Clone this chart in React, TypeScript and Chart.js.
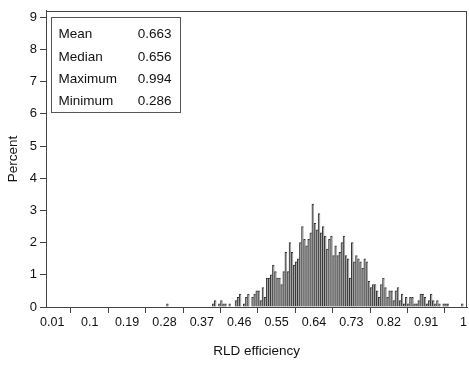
import React, { useEffect, useRef } from 'react';
import { Chart, registerables } from 'chart.js';

Chart.register(...registerables);

// Histogram bins: width 0.005, first bin starts at 0.285
const binStart = 0.285;
const binWidth = 0.005;
const percents = [
  0.1, 0, 0, 0, 0, 0, 0, 0, 0, 0,
  0, 0, 0, 0, 0, 0, 0, 0, 0, 0,
  0, 0, 0.1, 0.2, 0, 0.1, 0.2, 0.1, 0.1, 0,
  0.1, 0, 0, 0.2, 0.3, 0.4, 0, 0.1, 0.3, 0.4,
  0, 0.3, 0.4, 0.5, 0.5, 0.2, 0.6, 0.3, 0.9, 0.9,
  1.0, 1.3, 1.1, 0.9, 0.9, 0.7, 1.1, 1.7, 1.1, 2.0,
  1.7, 1.3, 1.4, 1.5, 2.0, 2.5, 2.1, 1.9, 2.1, 2.3,
  3.2, 2.6, 2.4, 2.9, 2.3, 2.5, 2.2, 1.8, 2.1, 2.2,
  1.6, 1.9, 1.6, 1.7, 2.0, 2.2, 1.6, 1.5, 0.9, 2.0,
  1.4, 1.6, 1.5, 1.4, 1.2, 1.5, 1.4, 0.8, 0.6, 0.7,
  0.7, 0.5, 0.3, 0.7, 0.9, 0.6, 0.3, 0.5, 0.5, 0.2,
  0.5, 0.6, 0.2, 0.4, 0.1, 0.3, 0.1, 0.3, 0.3, 0.1,
  0.1, 0.2, 0.4, 0.4, 0.3, 0.1, 0.2, 0.4, 0.2, 0.1,
  0.2, 0.1, 0, 0.1, 0.1, 0.1, 0, 0, 0, 0,
  0, 0, 0.1,
];

const xTickValues = [0.01, 0.1, 0.19, 0.28, 0.37, 0.46, 0.55, 0.64, 0.73, 0.82, 0.91, 1];
const xTickLabels = ['0.01', '0.1', '0.19', '0.28', '0.37', '0.46', '0.55', '0.64', '0.73', '0.82', '0.91', '1'];
const yTickValues = [0, 1, 2, 3, 4, 5, 6, 7, 8, 9];

const statLabels = ['Mean', 'Median', 'Maximum', 'Minimum'];
const statValues = ['0.663', '0.656', '0.994', '0.286'];

const xTitle = 'RLD efficiency';
const yTitle = 'Percent';

const FONT = "'Liberation Sans', Arial, Helvetica, sans-serif";

export default function App() {
  const canvasRef = useRef<HTMLCanvasElement | null>(null);

  useEffect(() => {
    document.body.style.margin = '0';
    const canvas = canvasRef.current;
    if (!canvas) return;

    const points = percents.map((p, k) => ({ x: binStart + binWidth * (k + 0.5), y: p }));

    const framePlugin = {
      id: 'frameAndStats',
      afterDraw(chart: any) {
        const { ctx, chartArea } = chart;
        ctx.save();
        ctx.strokeStyle = '#444';
        ctx.lineWidth = 1;
        ctx.strokeRect(
          Math.round(chartArea.left) + 0.5,
          Math.round(chartArea.top) + 0.5,
          Math.round(chartArea.right - chartArea.left) - 1,
          Math.round(chartArea.bottom - chartArea.top)
        );
        const bx = Math.round(chartArea.left) + 5.5;
        const by = Math.round(chartArea.top) + 6.5;
        const bw = 129;
        const bh = 95;
        ctx.fillStyle = '#fff';
        ctx.fillRect(bx, by, bw, bh);
        ctx.strokeStyle = '#555';
        ctx.strokeRect(bx, by, bw, bh);
        ctx.fillStyle = '#111';
        ctx.font = `13.5px ${FONT}`;
        ctx.textBaseline = 'middle';
        statLabels.forEach((lab, i) => {
          const ty = by + 17 + i * 22.3;
          ctx.textAlign = 'left';
          ctx.fillText(lab, bx + 7, ty);
          ctx.textAlign = 'right';
          ctx.fillText(statValues[i], bx + 120, ty);
        });
        ctx.restore();
      },
    };

    const chart = new Chart(canvas, {
      type: 'bar',
      data: {
        datasets: [
          {
            data: points as any,
            backgroundColor: '#a6a6a6',
            borderColor: '#333333',
            borderWidth: { top: 1, left: 1, right: 0, bottom: 0 } as any,
            borderSkipped: false as any,
            barPercentage: 1,
            categoryPercentage: 1,
            grouped: false,
          },
        ],
      },
      options: {
        animation: false,
        responsive: false,
        maintainAspectRatio: false,
        layout: { padding: { left: 0, right: 1, top: 4, bottom: 0 } },
        plugins: {
          legend: { display: false },
          tooltip: { enabled: false },
        },
        scales: {
          x: {
            type: 'linear',
            min: -0.0051,
            max: 1.0088,
            offset: false,
            afterBuildTicks: (scale: any) => {
              scale.ticks = xTickValues.map((v) => ({ value: v }));
            },
            afterFit: (scale: any) => {
              scale.height = 60;
            },
            ticks: {
              autoSkip: false,
              maxRotation: 0,
              color: '#111',
              font: { family: FONT, size: 12.5 },
              padding: 2,
              callback: (value: any, index: number) => xTickLabels[index],
            },
            grid: {
              drawOnChartArea: false,
              drawTicks: true,
              tickLength: 6,
              color: '#444',
            },
            border: { display: true, color: '#444' },
            title: {
              display: true,
              text: xTitle,
              color: '#111',
              font: { family: FONT, size: 13.5 },
              padding: { top: 4, bottom: 8 },
            },
          },
          y: {
            type: 'linear',
            min: 0,
            max: 9.2,
            afterBuildTicks: (scale: any) => {
              scale.ticks = yTickValues.map((v) => ({ value: v }));
            },
            afterFit: (scale: any) => {
              scale.width = 46;
            },
            ticks: {
              color: '#111',
              font: { family: FONT, size: 13 },
              padding: 3,
              callback: (value: any) => String(value),
            },
            grid: {
              drawOnChartArea: false,
              drawTicks: true,
              tickLength: 6,
              color: '#444',
            },
            border: { display: true, color: '#444' },
            title: {
              display: true,
              text: yTitle,
              color: '#111',
              font: { family: FONT, size: 13.5 },
              padding: { top: 5, bottom: 4 },
            },
          },
        },
      },
      plugins: [framePlugin],
    });

    return () => {
      chart.destroy();
    };
  }, []);

  return (
    <div style={{ width: 469, height: 367 }}>
      <canvas ref={canvasRef} width={469} height={367} style={{ display: 'block' }} />
    </div>
  );
}
